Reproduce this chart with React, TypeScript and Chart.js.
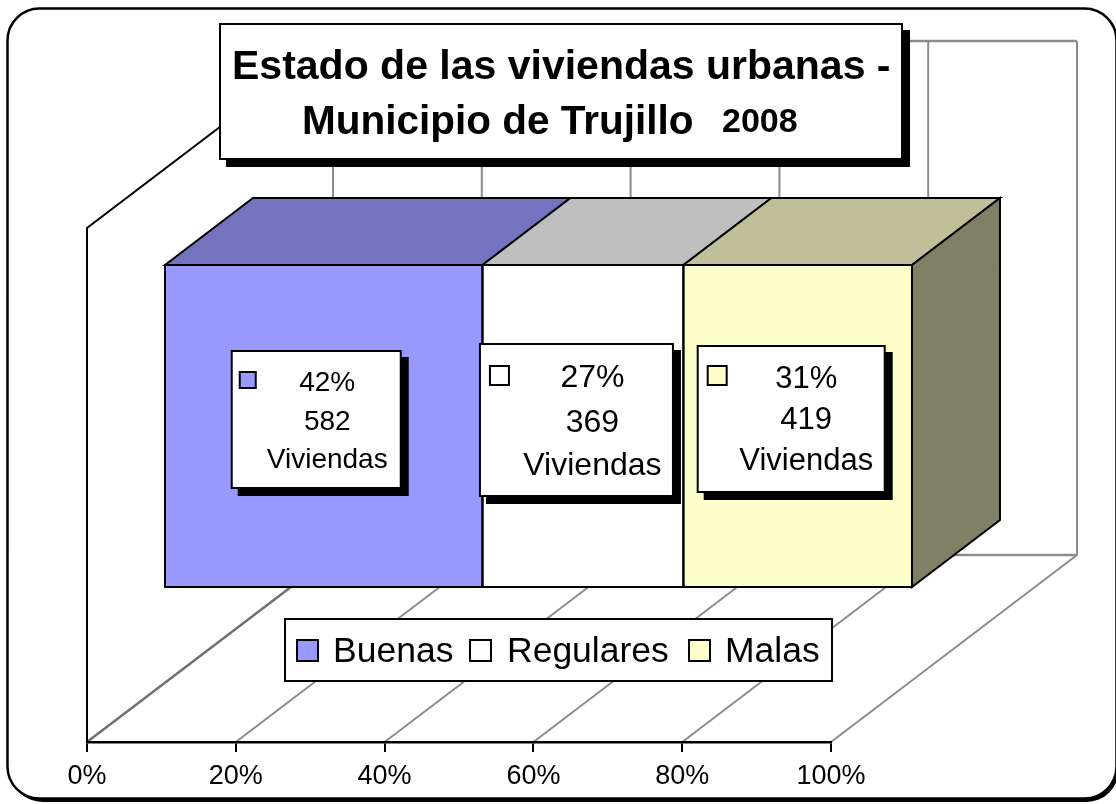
import React, { useEffect, useRef } from "react";
import { Chart, registerables } from "chart.js";

Chart.register(...registerables);

const categories = ["Estado"];
const seriesNames = ["Buenas", "Regulares", "Malas"];
const shares = [42.5, 26.9, 30.6];
const percentLabels = ["42%", "27%", "31%"];
const dwellings = ["582", "369", "419"];
const unitLabel = "Viviendas";
const frontColors = ["#9999ff", "#ffffff", "#ffffcc"];
const topColors = ["#7373bf", "#bfbfbf", "#bfbf99"];
const sideColor = "#808066";
const titleLine1 = "Estado de las viviendas urbanas -";
const titleLine2 = "Municipio de Trujillo";
const titleYear = "2008";

const FONT = '"Liberation Sans", Arial, sans-serif';
const WALL = { dx: 246, dy: -187 };
const BAR_SHIFT = { dx: 78, dy: -59 };
const BAR_DEPTH = { dx: 88, dy: -67 };

// Geometry of the callout boxes, relative to the centre of the bar's front face.
const calloutStyles = [
  { ox: -92, oy: -75, w: 169, h: 137, font: 28, textX: 3, base: [40, 79, 117], sw: [8, 21, 16] },
  { ox: -103, oy: -82, w: 193, h: 152, font: 32, textX: 8, base: [43, 88, 131], sw: [10, 22, 19] },
  { ox: -100, oy: -80, w: 187, h: 146, font: 31, textX: 7, base: [42, 83, 124], sw: [10, 20, 19] },
];

function box(ctx: CanvasRenderingContext2D, x: number, y: number, w: number, h: number, shadow: number) {
  if (shadow) {
    ctx.fillStyle = "#000";
    ctx.fillRect(x + shadow, y + shadow, w + 2, h + 2);
  }
  ctx.fillStyle = "#fff";
  ctx.fillRect(x, y, w, h);
  ctx.strokeStyle = "#000";
  ctx.lineWidth = 2;
  ctx.strokeRect(x, y, w, h);
}

function line(ctx: CanvasRenderingContext2D, pts: number[], color: string, width: number) {
  ctx.strokeStyle = color;
  ctx.lineWidth = width;
  ctx.beginPath();
  ctx.moveTo(pts[0], pts[1]);
  for (let i = 2; i < pts.length; i += 2) ctx.lineTo(pts[i], pts[i + 1]);
  ctx.stroke();
}

function poly(ctx: CanvasRenderingContext2D, pts: number[], fill: string) {
  ctx.fillStyle = fill;
  ctx.strokeStyle = "#000";
  ctx.lineWidth = 2;
  ctx.lineJoin = "miter";
  ctx.beginPath();
  ctx.moveTo(pts[0], pts[1]);
  for (let i = 2; i < pts.length; i += 2) ctx.lineTo(pts[i], pts[i + 1]);
  ctx.closePath();
  ctx.fill();
  ctx.stroke();
}

const scenePlugin = {
  id: "scene3d",
  beforeDraw(chart: any) {
    const { ctx, chartArea: a, scales } = chart;
    const x = scales.x;
    const { dx, dy } = WALL;
    ctx.save();
    // outer rounded frame with its shadow
    ctx.fillStyle = "#fff";
    ctx.fillRect(0, 0, chart.width, chart.height);
    ctx.beginPath();
    ctx.roundRect(10.5, 12, 1108, 790, 32);
    ctx.fillStyle = "#000";
    ctx.fill();
    ctx.beginPath();
    ctx.roundRect(7.5, 8.5, 1109, 790, 32);
    ctx.fillStyle = "#fff";
    ctx.fill();
    ctx.strokeStyle = "#000";
    ctx.lineWidth = 2.5;
    ctx.stroke();
    // back wall and floor grid
    const grey = "#8c8c8c";
    const tickVals = x.ticks.map((t: any) => t.value);
    tickVals.forEach((v: number, i: number) => {
      const px = x.getPixelForValue(v);
      line(ctx, [px + dx, a.top + dy, px + dx, a.bottom + dy], grey, 2);
      line(ctx, [px, a.bottom, px + dx, a.bottom + dy], i === 0 ? "#707070" : grey, i === 0 ? 2.5 : 2);
    });
    line(ctx, [x.left + dx, a.top + dy, x.right + dx, a.top + dy], grey, 2.5);
    line(ctx, [x.left + dx, a.bottom + dy, x.right + dx, a.bottom + dy], grey, 2.5);
    // left wall
    line(ctx, [x.left, a.bottom, x.left, a.top, x.left + dx, a.top + dy], "#000", 2);
    ctx.restore();
  },
  beforeDatasetsDraw(chart: any) {
    const { ctx } = chart;
    ctx.save();
    ctx.translate(BAR_SHIFT.dx, BAR_SHIFT.dy);
    const { dx, dy } = BAR_DEPTH;
    const n = chart.data.datasets.length;
    chart.data.datasets.forEach((_: any, i: number) => {
      const b = chart.getDatasetMeta(i).data[0];
      const top = b.y - b.height / 2;
      poly(ctx, [b.base, top, b.base + dx, top + dy, b.x + dx, top + dy, b.x, top], topColors[i]);
      if (i === n - 1) {
        const bot = b.y + b.height / 2;
        poly(ctx, [b.x, top, b.x + dx, top + dy, b.x + dx, bot + dy, b.x, bot], sideColor);
      }
    });
  },
  afterDatasetsDraw(chart: any) {
    const { ctx } = chart;
    chart.data.datasets.forEach((_: any, i: number) => {
      const b = chart.getDatasetMeta(i).data[0];
      ctx.strokeStyle = "#000";
      ctx.lineWidth = 2;
      ctx.strokeRect(b.base, b.y - b.height / 2, b.x - b.base, b.height);
    });
    ctx.restore();

    // callouts
    ctx.save();
    chart.data.datasets.forEach((ds: any, i: number) => {
      const b = chart.getDatasetMeta(i).data[0];
      const s = calloutStyles[i];
      const cx = (b.base + b.x) / 2 + BAR_SHIFT.dx;
      const cy = b.y + BAR_SHIFT.dy;
      const bx = cx + s.ox;
      const by = cy + s.oy;
      box(ctx, bx, by, s.w, s.h, 6);
      ctx.fillStyle = ds.backgroundColor;
      ctx.strokeStyle = "#000";
      ctx.lineWidth = 2;
      ctx.fillRect(bx + s.sw[0], by + s.sw[1], s.sw[2], s.sw[2]);
      ctx.strokeRect(bx + s.sw[0], by + s.sw[1], s.sw[2], s.sw[2]);
      ctx.fillStyle = "#000";
      ctx.font = `${s.font}px ${FONT}`;
      ctx.textAlign = "center";
      ctx.textBaseline = "alphabetic";
      const tx = bx + s.w / 2 + s.textX + 8;
      ctx.fillText(percentLabels[i], tx, by + s.base[0]);
      ctx.fillText(dwellings[i], tx, by + s.base[1]);
      ctx.fillText(unitLabel, tx, by + s.base[2]);
    });

    // title
    box(ctx, 220, 24, 682, 135, 6);
    ctx.fillStyle = "#000";
    ctx.textAlign = "left";
    ctx.textBaseline = "alphabetic";
    ctx.font = `bold 41px ${FONT}`;
    ctx.fillText(titleLine1, 232, 79);
    ctx.font = `bold 40.5px ${FONT}`;
    ctx.fillText(titleLine2, 302, 134);
    ctx.font = `bold 34px ${FONT}`;
    ctx.fillText(titleYear, 722, 132);

    // legend
    box(ctx, 285, 619, 547, 62, 0);
    const swatchX = [297, 470, 689];
    const textX = [333, 507, 725];
    ctx.font = `35.5px ${FONT}`;
    chart.data.datasets.forEach((ds: any, i: number) => {
      ctx.fillStyle = ds.backgroundColor;
      ctx.strokeStyle = "#000";
      ctx.lineWidth = 2;
      ctx.fillRect(swatchX[i], 640, 21, 21);
      ctx.strokeRect(swatchX[i], 640, 21, 21);
      ctx.fillStyle = "#000";
      ctx.fillText(ds.label, textX[i], 662);
    });
    ctx.restore();
  },
};

export default function App() {
  const ref = useRef<HTMLCanvasElement>(null);
  useEffect(() => {
    if (!ref.current) return;
    const chart = new Chart(ref.current, {
      type: "bar",
      data: {
        labels: categories,
        datasets: seriesNames.map((name, i) => ({
          label: name,
          data: [shares[i]],
          backgroundColor: frontColors[i],
          borderWidth: 0,
          xAxisID: "x2",
          clip: false,
          barThickness: 322,
        })),
      },
      options: {
        indexAxis: "y",
        responsive: false,
        animation: false,
        layout: { padding: { left: 87, right: 285, top: 228, bottom: 0 } },
        plugins: { legend: { display: false }, title: { display: false }, tooltip: { enabled: false } },
        scales: {
          x: {
            type: "linear",
            min: 0,
            max: 100,
            position: "bottom",
            afterFit: (s: any) => { s.height = 62; },
            border: { display: true, color: "#000", width: 2.5 },
            grid: { drawOnChartArea: false, drawTicks: true, tickLength: 10, color: "#000", lineWidth: 2 },
            ticks: {
              stepSize: 20,
              color: "#000",
              maxRotation: 0,
              padding: 8,
              font: { family: FONT, size: 27 },
              callback: (v: any) => `${v}%`,
            },
          },
          x2: { type: "linear", display: false, stacked: true, min: 0, max: 99.6 },
          y: { display: false, stacked: true },
        },
      },
      plugins: [scenePlugin],
    } as any);
    return () => chart.destroy();
  }, []);
  return (
    <div style={{ position: "fixed", left: 0, top: 0, width: 1116, height: 804 }}>
      <canvas ref={ref} width={1116} height={804} style={{ display: "block" }} />
    </div>
  );
}
